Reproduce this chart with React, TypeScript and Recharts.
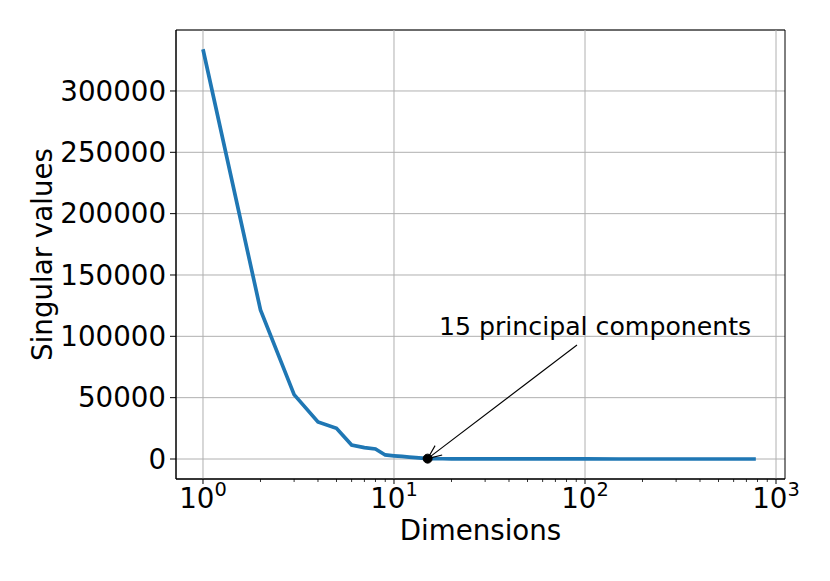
import React from 'react';
import {
  LineChart, Line, XAxis, YAxis, CartesianGrid, ReferenceLine, ReferenceDot, ReferenceArea
} from 'recharts';

const dims = [1, 2, 3, 4, 5, 6, 7, 8, 9, 10, 11, 12, 13, 14, 15, 16, 18, 20, 25, 30, 40, 50, 70, 100, 150, 200, 300, 400, 500, 600, 700, 784];
const singularValues = [334000, 121500, 52500, 30200, 25000, 11400, 9300, 8200, 3300, 2600, 2100, 1600, 1100, 700, 300, 250, 200, 170, 130, 100, 80, 60, 45, 30, 20, 15, 10, 8, 6, 4, 3, 2];

const majorTicks = [1, 10, 100, 1000];
const minorTicks = [2, 3, 4, 5, 6, 7, 8, 9, 20, 30, 40, 50, 60, 70, 80, 90, 200, 300, 400, 500, 600, 700, 800, 900];
const yTicks = [0, 50000, 100000, 150000, 200000, 250000, 300000];

const annotationText = '15 principal components';
const annotationPoint = { x: 15, y: 300 };
const annotationTextPos = { x: 17.2, y: 101000 };
const arrowStart = { x: 90.8, y: 92900 };

const xDomain = [0.7223, 1114.5];
const yDomain = [-16300, 349700];

const data = dims.map((d, i) => ({ d, v: singularValues[i] }));

const FONT = 'DejaVu Sans, sans-serif';
const FS = 27.7;

const XTick = (props: any) => {
  const { x, y, payload } = props;
  const val = payload.value;
  const isMajor = majorTicks.includes(val);
  if (!isMajor) {
    return <line x1={x} x2={x} y1={y} y2={y + 3} stroke="#000" strokeWidth={0.8} />;
  }
  const exp = Math.round(Math.log10(val));
  return (
    <g>
      <line x1={x} x2={x} y1={y} y2={y + 5} stroke="#000" strokeWidth={1} />
      <text x={x} y={y + 29} textAnchor="middle" fontFamily={FONT} fontSize={FS} fill="#000">
        10
        <tspan dy={-12} fontSize={19.4}>{exp}</tspan>
      </text>
    </g>
  );
};

const ArrowShape = (props: any) => {
  const { x1, y1, x2, y2 } = props;
  if ([x1, y1, x2, y2].some((v) => v === undefined || isNaN(v))) return null;
  const ang = Math.atan2(y2 - y1, x2 - x1);
  const len = 15;
  const spread = 0.4;
  const ax = x2 - len * Math.cos(ang - spread);
  const ay = y2 - len * Math.sin(ang - spread);
  const bx = x2 - len * Math.cos(ang + spread);
  const by = y2 - len * Math.sin(ang + spread);
  return (
    <g>
      <line x1={x1} y1={y1} x2={x2} y2={y2} stroke="#000" strokeWidth={1.1} />
      <polyline points={`${ax},${ay} ${x2},${y2} ${bx},${by}`} fill="none" stroke="#000" strokeWidth={1.1} />
    </g>
  );
};

const LabelShape = (props: any) => {
  const { cx, cy } = props;
  return (
    <text x={cx} y={cy} fontFamily={FONT} fontSize={25.2} fill="#000" textAnchor="start">
      {annotationText}
    </text>
  );
};

export default function App() {
  return (
    <div style={{ position: 'absolute', left: 0, top: 0, width: 830, height: 581, background: '#fff' }}>
      <LineChart
        width={830}
        height={581}
        data={data}
        margin={{ top: 30, right: 45, bottom: 0, left: 0 }}
      >
        <CartesianGrid vertical={false} stroke="#b0b0b0" strokeWidth={1} />
        {majorTicks.map((t) => (
          <ReferenceLine key={t} x={t} stroke="#b0b0b0" strokeWidth={1} />
        ))}
        <XAxis
          dataKey="d"
          type="number"
          scale="log"
          domain={xDomain}
          allowDataOverflow
          ticks={[...majorTicks, ...minorTicks]}
          interval={0}
          tick={<XTick />}
          tickLine={false}
          tickSize={0}
          tickMargin={0}
          axisLine={{ stroke: '#000' }}
          height={102}
          label={{ value: 'Dimensions', position: 'insideBottom', offset: 41, fontSize: FS, fill: '#000', fontFamily: FONT }}
        />
        <YAxis
          type="number"
          domain={yDomain}
          allowDataOverflow
          ticks={yTicks}
          interval={0}
          width={176}
          tick={{ fontSize: FS, fill: '#000', fontFamily: FONT }}
          tickLine={{ stroke: '#000' }}
          tickSize={6}
          tickMargin={4}
          axisLine={{ stroke: '#000' }}
          label={{ value: 'Singular values', angle: -90, position: 'insideLeft', offset: 42, fontSize: FS, fill: '#000', fontFamily: FONT, style: { textAnchor: 'middle' } }}
        />
        <ReferenceArea x1={xDomain[0]} x2={xDomain[1]} y1={yDomain[0]} y2={yDomain[1]} fill="none" stroke="#000" strokeWidth={1} ifOverflow="visible" />
        <Line
          type="linear"
          dataKey="v"
          stroke="#1f77b4"
          strokeWidth={3.7}
          dot={false}
          isAnimationActive={false}
        />
        <ReferenceLine
          segment={[arrowStart, annotationPoint]}
          shape={<ArrowShape />}
          ifOverflow="visible"
        />
        <ReferenceDot x={annotationPoint.x} y={annotationPoint.y} r={4.5} fill="#000" stroke="#000" />
        <ReferenceDot x={annotationTextPos.x} y={annotationTextPos.y} r={0} shape={<LabelShape />} ifOverflow="visible" />
      </LineChart>
    </div>
  );
}
